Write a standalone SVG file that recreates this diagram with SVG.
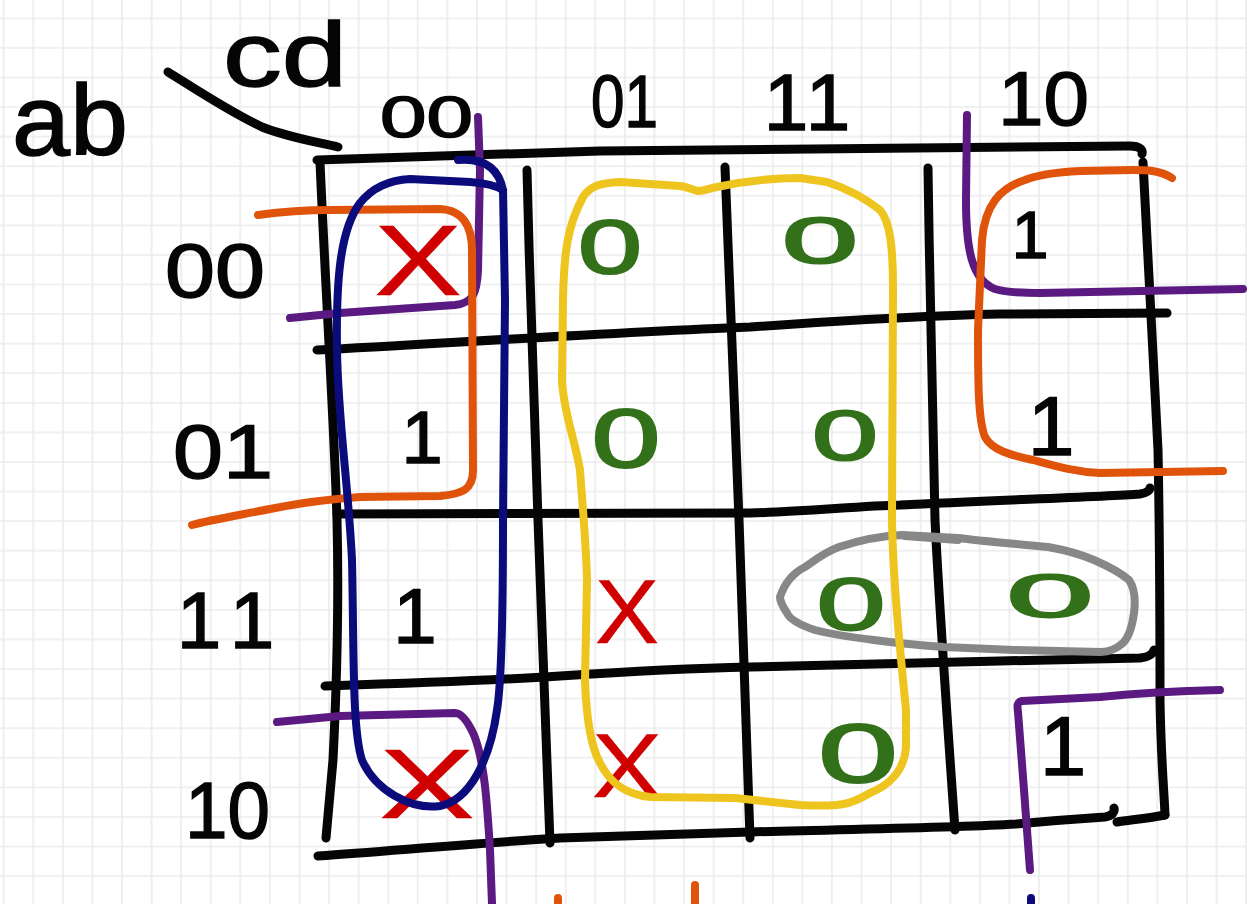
<svg xmlns="http://www.w3.org/2000/svg" width="1247" height="904" viewBox="0 0 1247 904">
<defs>
<pattern id="paper" patternUnits="userSpaceOnUse" x="18.5" y="3.5" width="29.58" height="29.58">
<path d="M14.79,0 V29.58 M0,14.79 H29.58" stroke="#ebebeb" stroke-width="1.6" fill="none"/>
</pattern>
<style>
.ink{fill:none;stroke:#050505;stroke-width:9;stroke-linecap:round;stroke-linejoin:round}
.loop{fill:none;stroke-width:8;stroke-linecap:round;stroke-linejoin:round}
.lbl{font-family:"Liberation Sans",Arial,sans-serif;fill:#050505;stroke:#050505;stroke-width:1.5}
.one{font-family:"Liberation Sans",Arial,sans-serif;fill:#050505;stroke:#050505;stroke-width:1.5;text-anchor:middle}
.zero{font-family:"Liberation Sans",Arial,sans-serif;fill:#33701a;stroke:#33701a;stroke-width:2;text-anchor:middle}
.dc{font-family:"Liberation Sans",Arial,sans-serif;fill:#d00000;stroke:#d00000;stroke-width:0.5;text-anchor:middle}
</style>
</defs>
<rect width="1247" height="904" fill="#ffffff"/>
<rect width="1247" height="904" fill="url(#paper)"/>

<g id="kmap-grid">
<path class="ink" d="M317,160 C400,157 500,154 600,151 C800,148 1000,146 1130,146 C1140,146 1143,150 1142,154"/>
<path class="ink" d="M320,162 C326,300 334,420 337,520 C339,600 336,700 333,760 L326,838"/>
<path class="ink" d="M317,350 C450,343 600,333 750,327 C850,320 950,315 1000,314 L1167,313"/>
<path class="ink" d="M337,514 L750,513 C800,512 860,506 900,505 C1000,500 1100,497 1140,494 C1147,493 1150,490 1150,488"/>
<path class="ink" d="M325,686 C420,683 500,680 560,676 C650,670 700,668 750,667 C850,664 950,662 1000,661 L1140,658 C1148,657 1153,654 1154,650"/>
<path class="ink" d="M318,856 C400,850 480,843 560,838 L750,832 C850,829 950,828 1016,824 C1060,820 1090,818 1105,817 C1112,816 1115,812 1114,808"/>
<path class="ink" d="M1117,822 C1130,820 1150,818 1165,815"/>
<path class="ink" d="M1143,162 C1147,250 1152,350 1158,450 C1160,550 1160,650 1160,700 C1161,760 1164,790 1165,815"/>
<path class="ink" d="M527,170 C530,300 536,450 538,520 C541,600 545,700 550,843"/>
<path class="ink" d="M725,167 C730,300 737,450 739,520 C742,620 745,720 750,838"/>
<path class="ink" d="M928,168 C930,300 933,450 935,520 C940,620 948,730 955,830"/>
<path class="ink" d="M168,72 C200,92 230,112 262,127 C290,138 318,142 338,147"/>
</g>

<g id="labels">
<text class="lbl" x="12" y="155" font-size="100" textLength="116" lengthAdjust="spacingAndGlyphs">ab</text>
<text class="lbl" x="223" y="86" font-size="90" textLength="124" lengthAdjust="spacingAndGlyphs">cd</text>
<text class="lbl" x="380" y="137" font-size="58" textLength="93" lengthAdjust="spacingAndGlyphs">00</text>
<text class="lbl" x="591" y="127" font-size="75" textLength="67" lengthAdjust="spacingAndGlyphs">01</text>
<text class="one" x="786 828" y="130" font-size="80">11</text>
<text class="lbl" x="998" y="125" font-size="76" textLength="91" lengthAdjust="spacingAndGlyphs">10</text>
<text class="lbl" x="165" y="297" font-size="76" textLength="100" lengthAdjust="spacingAndGlyphs">00</text>
<text class="lbl" x="173" y="478" font-size="76" textLength="100" lengthAdjust="spacingAndGlyphs">01</text>
<text class="one" x="199 252" y="648" font-size="80">11</text>
<text class="lbl" x="185" y="838" font-size="80" textLength="85" lengthAdjust="spacingAndGlyphs">10</text>
</g>

<g id="cells">
<text class="one" x="1030" y="258" font-size="66">1</text>
<text class="one" x="422" y="463" font-size="74">1</text>
<text class="one" x="1051" y="455" font-size="84">1</text>
<text class="one" x="415" y="643" font-size="78">1</text>
<text class="one" x="1063" y="775" font-size="83">1</text>
<text class="zero" x="610" y="273" font-size="76" textLength="64" lengthAdjust="spacingAndGlyphs">0</text>
<text class="zero" x="820" y="263" font-size="64" textLength="76" lengthAdjust="spacingAndGlyphs">0</text>
<text class="zero" x="626" y="467" font-size="84" textLength="69" lengthAdjust="spacingAndGlyphs">0</text>
<text class="zero" x="845" y="460" font-size="70" textLength="66" lengthAdjust="spacingAndGlyphs">0</text>
<text class="zero" x="851" y="630" font-size="74" textLength="69" lengthAdjust="spacingAndGlyphs">0</text>
<text class="zero" x="1050" y="617" font-size="61" textLength="87" lengthAdjust="spacingAndGlyphs">0</text>
<text class="zero" x="858" y="782" font-size="84" textLength="80" lengthAdjust="spacingAndGlyphs">0</text>
<text class="dc" x="418" y="295" font-size="100" textLength="88" lengthAdjust="spacingAndGlyphs">X</text>
<text class="dc" x="627" y="643" font-size="90" textLength="64" lengthAdjust="spacingAndGlyphs">X</text>
<text class="dc" x="427" y="818" font-size="99" textLength="96" lengthAdjust="spacingAndGlyphs">X</text>
<text class="dc" x="627" y="797" font-size="90" textLength="70" lengthAdjust="spacingAndGlyphs">X</text>
</g>

<g id="loops">
<g id="purple-loops" stroke="#5a1a82">
<path class="loop" d="M478,117 L480,170 L478,270 C477,295 472,303 455,305 L340,313 L290,318"/>
<path class="loop" d="M967,115 L966,200 C966,250 972,280 995,289 C1005,292 1020,293 1040,293 L1243,289"/>
<path class="loop" d="M277,722 L340,716 L455,713 C462,713 468,722 474,735 C484,760 487,800 490,850 L492,904"/>
<path class="loop" d="M1220,690 C1180,691 1140,693 1100,697 L1022,701 C1017,702 1017,705 1018,712 L1024,790 L1030,870"/>
</g>
<g id="orange-loops" stroke="#e0530b">
<path class="loop" d="M258,215 C280,212 300,210 330,210 L440,209 C462,210 472,225 472,250 L473,470 C473,490 462,494 440,496 L360,497 C330,499 300,503 270,509 C240,515 210,520 192,525"/>
<path class="loop" d="M1172,178 C1160,170 1145,170 1133,170 L1080,171 C1060,172 1040,174 1025,180 C1000,188 985,205 982,240 L978,330 C978,380 978,420 985,437 C992,450 1010,455 1033,460 C1055,466 1075,472 1100,473 L1223,471"/>
<path class="loop" d="M558,898 L558,904 M695,885 L695,904"/>
</g>
<g id="blue-loop" stroke="#0b0b7c">
<path class="loop" d="M458,160 C480,158 498,165 503,190 L505,300 L503,520 C503,600 502,680 497,710 C490,760 470,800 440,806 C410,810 375,790 362,760 C352,730 354,650 352,560 C348,480 338,420 337,350 C336,280 340,230 360,203 C372,188 390,180 410,179 L470,182 C485,183 495,185 503,190"/>
<path class="loop" d="M1031,898 L1031,904"/>
</g>
<g id="gray-loop" stroke="#878787">
<path class="loop" d="M780,597 C785,582 795,572 805,567 C815,560 825,552 839,547 C860,540 880,536 902,535 L958,538 C990,542 1020,544 1048,547 C1065,550 1080,554 1094,560 C1110,567 1122,574 1129,580 C1136,590 1135,605 1134,613 C1132,628 1128,638 1123,643 C1115,650 1108,652 1101,652 L1014,650 L944,647 C915,645 895,643 874,640 C850,637 830,634 815,630 C800,625 790,620 787,613 C783,607 780,602 780,597 Z"/>
<path class="loop" d="M905,536 L958,540"/>
</g>
<g id="yellow-loop" stroke="#eec41e">
<path class="loop" d="M583,197 C590,186 600,183 620,182 L680,186 C688,187 692,190 698,191 C705,191 710,188 717,187 C740,182 770,178 800,178 L827,182 C845,188 865,198 880,210 C890,222 893,245 893,290 L892,520 C893,580 900,650 906,710 L906,748 C904,770 890,785 870,793 C850,805 840,807 800,805 L735,798 L650,797 C630,795 612,787 600,763 C590,745 586,710 585,680 L587,580 C586,540 582,500 580,470 C575,440 563,410 562,380 L563,300 C564,250 568,225 583,197 Z"/>
</g>
</g>
</svg>
